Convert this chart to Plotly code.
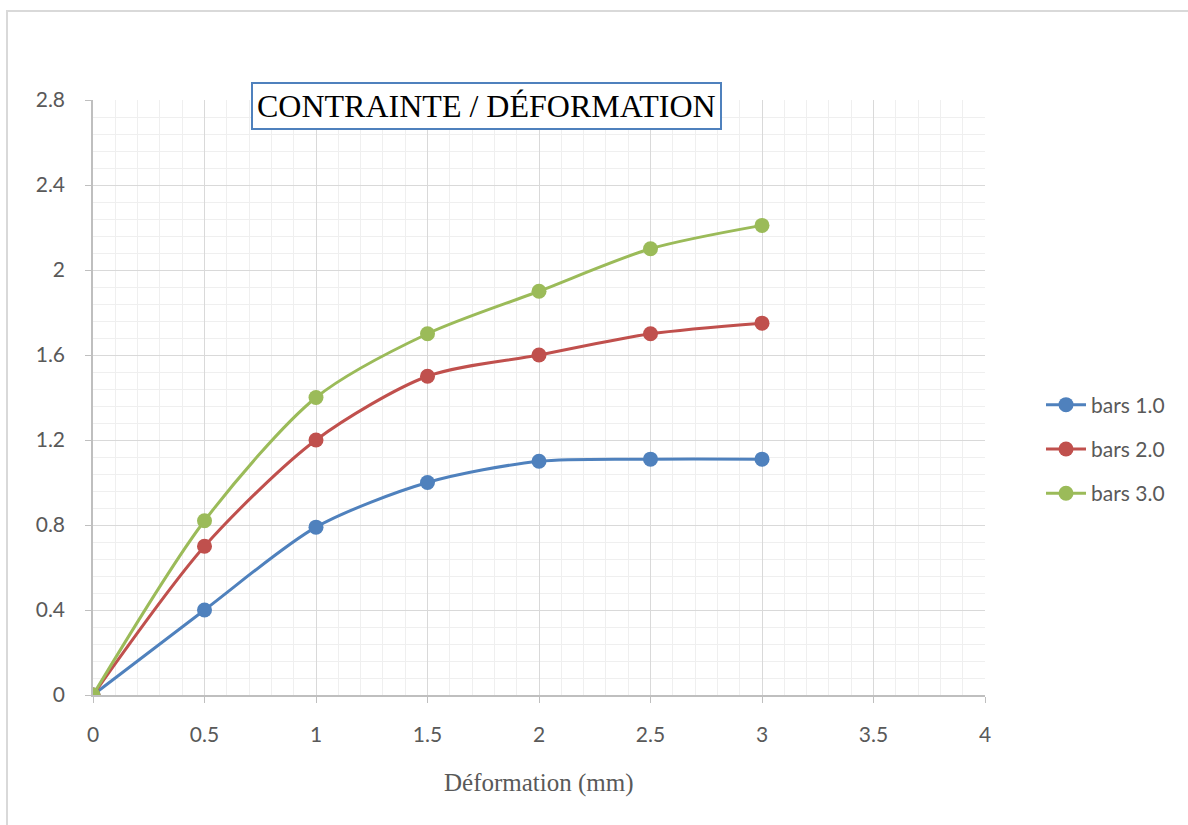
import plotly.graph_objects as go

# Stress / strain readings
deformation = [0, 0.5, 1, 1.5, 2, 2.5, 3]
bars_1 = [0, 0.40, 0.79, 1.00, 1.10, 1.11, 1.11]
bars_2 = [0, 0.70, 1.20, 1.50, 1.60, 1.70, 1.75]
bars_3 = [0, 0.82, 1.40, 1.70, 1.90, 2.10, 2.21]

series_names = ["bars 1.0", "bars 2.0", "bars 3.0"]
series_colors = ["#4F81BD", "#C0504D", "#9BBB59"]

x_ticks = [0, 0.5, 1, 1.5, 2, 2.5, 3, 3.5, 4]
y_ticks = [0, 0.4, 0.8, 1.2, 1.6, 2, 2.4, 2.8]

fig = go.Figure()
for name, vals, col in zip(series_names, [bars_1, bars_2, bars_3], series_colors):
    fig.add_trace(go.Scatter(
        x=deformation, y=vals, name=name,
        mode="lines+markers",
        line=dict(color=col, width=3, shape="spline", smoothing=0.8),
        marker=dict(color=col, size=15),
        legendgroup=name,
    ))

W, H = 1188, 825
L, R, T, B = 93, 985, 100, 695
tick_font = dict(family="Lato, Open Sans, sans-serif", size=21, color="#595959")

fig.update_layout(
    width=W, height=H,
    margin=dict(l=L, r=W - R, t=T, b=H - B),
    paper_bgcolor="white", plot_bgcolor="white",
    showlegend=True,
    legend=dict(
        x=(1041 - L) / (R - L), y=(B - 449) / (B - T), xanchor="left", yanchor="middle",
        font=dict(family="Lato, Open Sans, sans-serif", size=21, color="#595959"),
        tracegroupgap=14, itemwidth=40,
        bgcolor="rgba(0,0,0,0)",
    ),
    xaxis=dict(
        range=[0, 4], tickvals=x_ticks, ticktext=[f"{v:g}" for v in x_ticks],
        showgrid=True, gridcolor="#D9D9D9", gridwidth=1.3,
        minor=dict(dtick=0.1, tick0=0, showgrid=True, gridcolor="#EFEFEF", gridwidth=1),
        showline=True, linecolor="#BFBFBF", linewidth=1.5,
        ticks="outside", ticklen=6, tickcolor="#BFBFBF", tickwidth=1.3,
        ticklabelstandoff=14,
        tickfont=tick_font,
        zeroline=False,
    ),
    yaxis=dict(
        range=[0, 2.8], tickvals=y_ticks, ticktext=[f"{v:g}" for v in y_ticks],
        showgrid=True, gridcolor="#D9D9D9", gridwidth=1.3,
        minor=dict(dtick=0.08, tick0=0, showgrid=True, gridcolor="#EFEFEF", gridwidth=1),
        showline=True, linecolor="#BFBFBF", linewidth=1.5,
        ticks="outside", ticklen=6, tickcolor="#BFBFBF", tickwidth=1.3,
        ticklabelstandoff=16,
        tickfont=tick_font,
        zeroline=False,
    ),
    annotations=[
        dict(
            text="CONTRAINTE / DÉFORMATION",
            xref="paper", yref="paper",
            x=(486 - L) / (R - L), y=(B - 106) / (B - T),
            xanchor="center", yanchor="middle", showarrow=False,
            font=dict(family="Liberation Serif, Times New Roman, serif", size=32, color="black"),
            bordercolor="#4F81BD", borderwidth=2, borderpad=4, bgcolor="white",
        ),
        dict(
            text="Déformation (mm)",
            xref="paper", yref="paper",
            x=(539 - L) / (R - L), y=(B - 783) / (B - T),
            xanchor="center", yanchor="middle", showarrow=False,
            font=dict(family="Liberation Serif, Times New Roman, serif", size=25, color="#595959"),
        ),
    ],
    shapes=[
        dict(
            type="rect", xref="paper", yref="paper", layer="below",
            x0=(7 - L) / (R - L), y0=-0.5, x1=1.5, y1=(B - 11) / (B - T),
            line=dict(color="#D9D9D9", width=2), fillcolor="rgba(0,0,0,0)",
        )
    ],
)

fig.write_html("out.html")
